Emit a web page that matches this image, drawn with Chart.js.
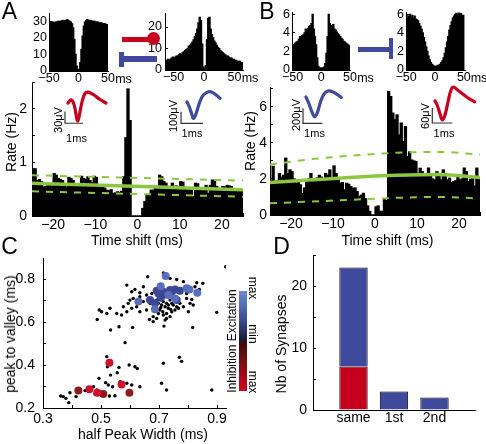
<!DOCTYPE html>
<html>
<head>
<meta charset="utf-8">
<script src="https://cdn.jsdelivr.net/npm/chart.js@4.4.1/dist/chart.umd.min.js"></script>
<style>
    html, body { margin: 0; padding: 0; background: #fff; }
    #fig { position: relative; width: 486px; height: 444px; overflow: hidden; font-family: "Liberation Sans", Arial, sans-serif; }
    #fig canvas { position: absolute; left: 0; top: 0; }
    .t { position: absolute; white-space: nowrap; line-height: 1; color: #000; }
    .s { position: absolute; }
</style>
</head>
<body>
<div id="fig"></div>
<script>
// ---- panels A / B : cross-correlograms, 0.5 ms bins from -25 to 25 ms
const ccgStart = -25;
const ccgBin = 0.5;
const rateA = [
    0.88, 0.88, 0.66, 0.68, 0.64, 0.54, 0.55, 0.57, 0.58, 0.56,
    0.79, 0.76, 0.70, 0.68, 0.66, 0.60, 0.54, 0.72, 0.70, 0.66,
    0.57, 0.55, 0.58, 0.74, 0.70, 0.68, 0.73, 0.66, 0.62, 0.74,
    0.72, 0.54, 0.53, 0.55, 0.52, 0.48, 0.47, 0.49, 0.42, 0.43,
    0.45, 0.44, 0.46, 0.73, 1.46, 2.37, 1.78, 0, 0, 0,
    0, 0, 0.14, 0.27, 0.39, 0.39, 0.48, 0.48, 0.55, 0.55,
    0.76, 0.73, 0.64, 0.61, 0.55, 0.55, 0.61, 0.55, 0.56, 0.54,
    0.64, 0.63, 0.51, 0.52, 0.50, 0.48, 0.36, 0.61, 0.60, 0.51,
    0.51, 0.52, 0.57, 0.42, 0.57, 0.67, 0.66, 0.55, 0.51, 0.50,
    0.55, 0.54, 0.57, 0.56, 0.55, 0.51, 0.50, 0.48, 0.48, 0.48
];
const rateB = [
    1.9, 2.7, 1.85, 1.9, 2.3, 2.1, 2.2, 3.15, 2.3, 2.5,
    2.4, 2.0, 1.76, 1.8, 1.67, 1.2, 1.5, 1.85, 2.0, 2.3,
    1.85, 1.9, 2.05, 2.2, 2.1, 1.9, 2.3, 2.2, 2.5, 2.05,
    2.72, 2.3, 1.95, 1.76, 1.8, 1.39, 1.76, 1.7, 1.57, 1.48,
    1.5, 1.3, 1.02, 1.1, 1.2, 0.9, 0.5, 0.2, 0, 0,
    0.45, 0.5, 0.2, 0.2, 0.85, 0.8, 6.85, 6.57, 5.65, 5.28,
    5.55, 4.44, 5.1, 4.07, 4.9, 3.24, 3.5, 3.05, 3.0, 2.96,
    2.31, 2.59, 2.4, 2.13, 2.2, 2.6, 2.13, 2.0, 1.94, 2.4,
    2.3, 1.94, 2.5, 2.3, 1.94, 2.04, 1.8, 1.85, 1.9, 2.2,
    1.94, 2.0, 2.6, 2.4, 1.85, 1.98, 2.1, 1.6, 2.6, 2.0
];
// green baseline and confidence band
const bandT = [-25, -15, -5, 5, 15, 25];
const meanA = [0.61, 0.59, 0.565, 0.54, 0.515, 0.49];
const upperA = [0.76, 0.74, 0.72, 0.70, 0.68, 0.66];
const lowerA = [0.46, 0.44, 0.42, 0.40, 0.38, 0.36];
const meanB = [1.8, 1.95, 2.1, 2.2, 2.25, 2.08];
const upperB = [2.8, 3.1, 3.3, 3.45, 3.5, 3.35];
const lowerB = [0.65, 0.75, 0.85, 0.95, 1.0, 0.92];

// ---- auto-correlograms, 2 ms bins
const acgBin = 2;
const acgA1 = [
    29, 29, 29.5, 29.5, 29, 29.5, 29.5, 30, 29.5, 30,
    30, 30.5, 30, 30.5, 30.5, 31, 30.5, 30, 29.5, 28.5,
    26, 19, 10, 3, 0.5, 1, 5, 13, 21, 27,
    29.5, 30.5, 31, 30.5, 30.5, 30.5, 30, 30, 30, 29.5,
    29.5, 29.5, 29, 29, 29, 28.5, 28.5, 28.5, 28, 28
];
const acgA2 = [
    4.5, 4, 5, 4.5, 5, 5.5, 6, 5.5, 6, 6.5,
    6.5, 7, 7.5, 7, 8, 8.5, 9, 9.5, 10, 11,
    11.5, 12, 13, 14, 15.5, 17, 19, 22, 24.5, 23,
    12, 1.5, 0.5, 2, 14, 24, 24.5, 19, 16.5, 15,
    13.5, 12.5, 11.5, 10.5, 10, 9, 8.5, 8, 7.5, 7,
    6.5, 6.5, 6, 5.5, 5.5, 5, 5, 4.5, 4.5, 4,
    4, 4, 3.5, 3.5
];
const acgB1 = [
    2.7, 2.7, 2.9, 3.0, 3.1, 3.3, 3.6, 3.5, 3.7, 3.8,
    4.0, 4.4, 4.3, 4.5, 4.7, 4.8, 5.0, 6.0, 4.4, 3.6,
    2.7, 1.3, 0.4, 0.2, 0.2, 0.2, 0.2, 0.3, 0.7, 1.8,
    3.6, 6.0, 5.0, 4.8, 4.7, 4.9, 4.4, 4.3, 4.1, 3.9,
    3.8, 3.6, 3.4, 3.3, 3.1, 3.0, 2.9, 2.8, 2.7, 2.6
];
const acgB2 = [
    5.9, 5.6, 5.8, 6.0, 5.7, 5.9, 5.6, 5.8, 5.5, 5.4,
    5.3, 5.0, 4.7, 4.4, 4.0, 3.5, 3.0, 2.5, 2.0, 1.5,
    1.1, 0.8, 0.6, 0.5, 0.4, 0.4, 0.4, 0.5, 0.5, 0.6,
    0.8, 1.0, 1.3, 1.8, 2.4, 3.0, 3.6, 4.3, 4.8, 5.2,
    5.6, 5.8, 6.0, 6.1, 5.9, 6.2, 6.0, 6.1, 5.8, 5.9
];

// ---- spike waveforms (ms, uV)
const redA_t = [0, 0.17, 0.33, 0.44, 0.53, 0.61, 0.78, 0.94, 1.11, 1.39, 1.78, 2.11];
const redA_v = [0, 8, -3, -28, -46, -36, 3, 24, 28, 22, 9, 0];
const blueA_t = [0, 0.09, 0.2, 0.29, 0.39, 0.52, 0.68, 0.86, 1.05, 1.27, 1.5];
const blueA_v = [0, -34, -94, -139, -111, -34, 43, 77, 88, 68, 32];
const blueB_t = [0, 0.16, 0.31, 0.45, 0.6, 0.75, 0.93, 1.14, 1.4, 1.66, 1.83];
const blueB_v = [13, -80, -187, -249, -187, -53, 53, 93, 80, 40, 7];
const redB_t = [0, 0.125, 0.25, 0.375, 0.5, 0.65, 0.8, 0.925, 1.1, 1.35, 1.65, 1.98];
const redB_v = [4, -16, -48, -72, -52, 0, 48, 60, 50, 34, 16, 1];

// ---- ticks (labelled values, and the step of the small unlabelled marks)
const ccgTicks = [-20, -10, 0, 10, 20];
const acgTicks = [-50, 0, 50];
const rateTicksA = [0, 1, 2];
const rateTicksB = [0, 2, 4, 6];
const acgYTicksA1 = [0, 10, 20, 30];
const acgYTicksA2 = [0, 10, 20];
const acgYTicksB = [0, 2, 4, 6];

// ---- panel C : half peak width vs peak to valley (ms)
const otherCells = [
    [0.930, 0.857], [0.715, 0.829], [0.661, 0.811], [0.589, 0.772], [0.738, 0.803],
    [0.761, 0.798], [0.784, 0.788], [0.830, 0.783], [0.851, 0.780], [0.824, 0.764],
    [0.606, 0.741], [0.634, 0.736], [0.657, 0.726], [0.675, 0.733], [0.686, 0.749],
    [0.600, 0.702], [0.611, 0.710], [0.646, 0.695], [0.669, 0.687], [0.703, 0.710],
    [0.715, 0.695], [0.726, 0.687], [0.738, 0.702], [0.749, 0.679], [0.772, 0.687],
    [0.795, 0.710], [0.807, 0.687], [0.818, 0.679], [0.709, 0.679], [0.721, 0.671],
    [0.732, 0.664], [0.703, 0.656], [0.692, 0.664], [0.744, 0.648], [0.726, 0.640],
    [0.755, 0.656], [0.767, 0.664], [0.784, 0.671], [0.801, 0.648], [0.715, 0.633],
    [0.738, 0.625], [0.698, 0.640], [0.680, 0.625], [0.657, 0.656], [0.634, 0.648],
    [0.623, 0.671], [0.606, 0.664], [0.589, 0.648], [0.571, 0.633], [0.554, 0.640],
    [0.531, 0.664], [0.520, 0.640], [0.502, 0.648], [0.494, 0.656], [0.487, 0.612],
    [0.533, 0.563], [0.562, 0.578], [0.609, 0.575], [0.667, 0.612], [0.680, 0.602],
    [0.721, 0.609], [0.726, 0.617], [0.717, 0.581], [0.816, 0.575], [0.899, 0.645],
    [0.583, 0.504], [0.692, 0.702], [0.634, 0.718], [0.698, 0.757], [0.709, 0.726],
    [0.721, 0.718], [0.744, 0.687], [0.761, 0.671], [0.698, 0.687], [0.686, 0.679],
    [0.706, 0.668], [0.713, 0.648], [0.732, 0.679], [0.740, 0.659], [0.692, 0.617],
    [0.594, 0.687], [0.577, 0.671], [0.795, 0.733], [0.813, 0.705], [0.839, 0.752],
    [0.617, 0.752], [0.646, 0.764],
    [0.520, 0.439], [0.522, 0.392], [0.562, 0.389], [0.597, 0.400], [0.617, 0.392],
    [0.625, 0.384], [0.715, 0.408], [0.770, 0.436], [0.778, 0.417], [0.533, 0.353],
    [0.556, 0.364], [0.493, 0.338], [0.516, 0.318], [0.525, 0.307], [0.540, 0.299],
    [0.566, 0.322], [0.589, 0.315], [0.606, 0.307], [0.634, 0.299], [0.709, 0.315],
    [0.726, 0.284], [0.882, 0.284], [0.474, 0.299], [0.485, 0.284], [0.497, 0.276],
    [0.462, 0.284], [0.445, 0.281], [0.414, 0.253], [0.393, 0.271], [0.361, 0.256],
    [0.370, 0.253], [0.379, 0.245], [0.389, 0.225], [0.529, 0.256], [0.548, 0.257],
    [0.479, 0.265]
];
const excitLight = [
    [0.723, 0.814], [0.706, 0.767], [0.795, 0.757], [0.805, 0.752], [0.832, 0.736],
    [0.629, 0.695], [0.686, 0.659], [0.755, 0.710], [0.732, 0.726]
];
const excitDark = [
    [0.692, 0.746], [0.715, 0.741], [0.738, 0.749], [0.755, 0.752], [0.772, 0.746],
    [0.669, 0.702], [0.706, 0.713], [0.686, 0.687], [0.761, 0.702], [0.698, 0.733],
    [0.744, 0.741]
];
const inhibBright = [[0.529, 0.411], [0.571, 0.309], [0.460, 0.287], [0.487, 0.271]];
const inhibDark = [[0.422, 0.281], [0.508, 0.265], [0.598, 0.271]];
const widthTicks = [0.3, 0.5, 0.7, 0.9];
const valleyTicks = [0.2, 0.4, 0.6, 0.8];

// ---- panel D : number of synapses
const synCats = ['same', '1st', '2nd'];
const synInhib = [7, 0, 0];
const synExcit = [16, 3, 2];
const synTicks = [0, 10, 20];

// ------------------------------------------------------------------
const W = 486, H = 444;
const fig = document.getElementById('fig');
const RED = '#c8001e', BLUE = '#3f4a9c', GREEN = '#8cc63f';

Chart.defaults.font.family = '"Liberation Sans", Arial, sans-serif';
Chart.defaults.color = '#000';

function makeCanvas() {
    const c = document.createElement('canvas');
    c.width = W;
    c.height = H;
    fig.appendChild(c);
    return c.getContext('2d');
}

function tickLabel(v) {
    return v < 0 ? '\u2212' + Math.abs(v) : String(v);
}

// plot area [left, top, right, bottom] in page pixels, plus the room kept for each axis
function boxPadding(a, yw, xh) {
    return { left: a[0] - yw, top: a[1], right: W - a[2], bottom: H - a[3] - xh };
}

// labelled ticks plus small inward marks every `minor` units (matlab style)
function axis(horizontal, min, max, ticks, size, pad, room, fmt, minor) {
    const marks = ticks.slice();
    if (minor) {
        for (let v = min; v <= max + 1e-9; v += minor) {
            if (!ticks.some(t => Math.abs(t - v) < 1e-6)) marks.push(+v.toFixed(6));
        }
    }
    const show = fmt || tickLabel;
    return {
        type: 'linear', min: min, max: max, offset: false,
        grid: { display: true, drawOnChartArea: false, drawTicks: true, tickLength: -3, color: '#000', lineWidth: 1 },
        border: { display: true, color: '#000', width: 1 },
        ticks: {
            font: { size: size }, padding: pad + 3, maxRotation: 0, autoSkip: false,
            callback: v => ticks.some(t => Math.abs(t - v) < 1e-6) ? show(v) : ''
        },
        afterBuildTicks: s => { s.ticks = marks.sort((a, b) => a - b).map(v => ({ value: v })); },
        afterFit: s => { if (horizontal) s.height = room; else s.width = room; }
    };
}

function baseOptions(area, yw, xh, scales) {
    return {
        responsive: false, animation: false, devicePixelRatio: 1, events: [],
        layout: { padding: boxPadding(area, yw, xh) },
        plugins: { legend: { display: false }, tooltip: { enabled: false } },
        scales: scales
    };
}

function bandLine(ys, width, dash) {
    return {
        type: 'line', order: 0,
        data: bandT.map((t, i) => ({ x: t, y: ys[i] })),
        borderColor: GREEN, borderWidth: width, borderDash: dash,
        pointRadius: 0, tension: 0.4, cubicInterpolationMode: 'monotone'
    };
}

function histogram(o) {
    const datasets = [{
        type: 'bar', order: 1,
        data: o.values.map((v, i) => ({ x: o.start + o.bin * (i + 0.5), y: v })),
        backgroundColor: '#000', borderWidth: 0, inflateAmount: 0.6,
        barPercentage: 1, categoryPercentage: 1
    }].concat(o.lines || []);
    new Chart(makeCanvas(), {
        type: 'bar',
        data: { datasets: datasets },
        options: baseOptions(o.area, o.yw, o.xh, {
            x: axis(true, o.xmin, o.xmax, o.xTicks, o.font, o.xPad, o.xh),
            y: axis(false, 0, o.ymax, o.yTicks, o.font, o.yPad, o.yw, null, o.yMinor)
        })
    });
}

// main cross-correlograms
histogram({
    area: [32, 82, 243, 216], yw: 32, xh: 20, values: rateA, start: ccgStart, bin: ccgBin,
    xmin: -25, xmax: 25, xTicks: ccgTicks, ymax: 2.5, yTicks: rateTicksA, yMinor: 0.5,
    font: 14, xPad: 1, yPad: 5,
    lines: [bandLine(meanA, 3.5, []), bandLine(upperA, 2, [7, 7]), bandLine(lowerA, 2, [7, 7])]
});
histogram({
    area: [270, 87, 480, 215], yw: 18, xh: 20, values: rateB, start: ccgStart, bin: ccgBin,
    xmin: -25, xmax: 25, xTicks: ccgTicks, ymax: 7.1, yTicks: rateTicksB, yMinor: 1,
    font: 14, xPad: 1, yPad: 3,
    lines: [bandLine(meanB, 3.5, []), bandLine(upperB, 2, [7, 7]), bandLine(lowerB, 2, [7, 7])]
});

// auto-correlograms
histogram({
    area: [49, 13, 108, 71], yw: 24, xh: 16, values: acgA1, start: -50, bin: acgBin,
    xmin: -50, xmax: 50, xTicks: acgTicks, ymax: 35, yTicks: acgYTicksA1,
    font: 12.5, xPad: 0, yPad: 2
});
histogram({
    area: [165, 10, 243, 70], yw: 24, xh: 16, values: acgA2, start: -64, bin: acgBin,
    xmin: -64, xmax: 64, xTicks: acgTicks, ymax: 26.3, yTicks: acgYTicksA2,
    font: 12.5, xPad: 0, yPad: 3
});
histogram({
    area: [292, 12, 350, 70], yw: 16, xh: 16, values: acgB1, start: -50, bin: acgBin,
    xmin: -51, xmax: 50, xTicks: acgTicks, ymax: 6.2, yTicks: acgYTicksB,
    font: 12.5, xPad: 0, yPad: 2
});
histogram({
    area: [406, 12, 465, 70], yw: 16, xh: 16, values: acgB2, start: -50, bin: acgBin,
    xmin: -50, xmax: 52, xTicks: acgTicks, ymax: 6.2, yTicks: acgYTicksB,
    font: 12.5, xPad: 0, yPad: 2
});

// waveform insets with scale bars
function waveform(o) {
    const bar = [
        { x: o.barX, y: o.barY + o.uv },
        { x: o.barX, y: o.barY },
        { x: o.barX + 1, y: o.barY }
    ];
    new Chart(makeCanvas(), {
        type: 'scatter',
        data: {
            datasets: [{
                data: o.t.map((t, i) => ({ x: t, y: o.v[i] })),
                showLine: true, borderColor: o.color, borderWidth: 3.2,
                pointRadius: 0, tension: 0.4, borderCapStyle: 'round', clip: false
            }, {
                data: bar, showLine: true, borderColor: '#333', borderWidth: 1.2,
                pointRadius: 0, tension: 0, clip: false
            }]
        },
        options: {
            responsive: false, animation: false, devicePixelRatio: 1, events: [],
            layout: { padding: { left: o.area[0], top: o.area[1], right: W - o.area[2], bottom: H - o.area[3] } },
            plugins: { legend: { display: false }, tooltip: { enabled: false } },
            scales: {
                x: { type: 'linear', display: false, min: o.xr[0], max: o.xr[1] },
                y: { type: 'linear', display: false, min: o.yr[0], max: o.yr[1] }
            }
        }
    });
}

waveform({ t: redA_t, v: redA_v, color: RED, area: [60, 86, 110, 126], xr: [-0.444, 2.333], yr: [-59, 43.6], uv: 30, barX: -0.167, barY: -52 });
waveform({ t: blueA_t, v: blueA_v, color: BLUE, area: [170, 86, 225, 126], xr: [-0.773, 1.727], yr: [-205, 136.8], uv: 100, barX: -0.27, barY: -183 });
waveform({ t: blueB_t, v: blueB_v, color: BLUE, area: [290, 84, 345, 126], xr: [-0.829, 2.021], yr: [-373, 186.7], uv: 200, barX: -0.155, barY: -337 });
waveform({ t: redB_t, v: redB_v, color: RED, area: [420, 82, 480, 126], xr: [-0.75, 2.25], yr: [-96, 80], uv: 60, barX: -0.135, barY: -84 });

// panel C scatter
function pts(list) { return list.map(p => ({ x: p[0], y: p[1] })); }
new Chart(makeCanvas(), {
    type: 'scatter',
    data: {
        datasets: [
            { data: pts(inhibBright), backgroundColor: '#d0102a', pointRadius: 4, borderWidth: 0, order: 0 },
            { data: pts(inhibDark), backgroundColor: '#8a1c1c', pointRadius: 4, borderWidth: 0, order: 0 },
            { data: pts(excitLight), backgroundColor: '#5a6cbc', pointRadius: 4, borderWidth: 0, order: 0 },
            { data: pts(excitDark), backgroundColor: '#3b4896', pointRadius: 4, borderWidth: 0, order: 0 },
            { data: pts(otherCells), backgroundColor: '#000', pointRadius: 1.7, borderWidth: 0, order: 1 }
        ]
    },
    options: baseOptions([43, 258, 226, 408], 43, 22, {
        x: axis(true, 0.3, 0.931, widthTicks, 14, 3, 22, v => v.toFixed(1), 0.1),
        y: axis(false, 0.2, 0.898, valleyTicks, 14, 8, 43, v => v.toFixed(1), 0.1)
    })
});

// panel D stacked bars
const dOpts = baseOptions([313, 255, 475, 410], 26, 22, {
    x: axis(true, 0, 4, [1, 2, 3], 14, 3, 22, v => synCats[v - 1]),
    y: axis(false, 0, 25, synTicks, 14, 6, 26, null, 5)
});
dOpts.scales.x.grid.display = false;
dOpts.scales.x.ticks.padding = 3;
dOpts.scales.x.stacked = true;
dOpts.scales.y.stacked = true;
new Chart(makeCanvas(), {
    type: 'bar',
    data: {
        datasets: [
            { data: synInhib.map((v, i) => ({ x: i + 1, y: v })), backgroundColor: '#c4001c', borderColor: '#000', borderWidth: 1, barPercentage: 0.7, categoryPercentage: 1 },
            { data: synExcit.map((v, i) => ({ x: i + 1, y: v })), backgroundColor: BLUE, borderColor: '#000', borderWidth: 1, barPercentage: 0.7, categoryPercentage: 1 }
        ]
    },
    options: dOpts
});

// ---- text and small graphics
function addText(str, cx, cy, size, rot) {
    const d = document.createElement('div');
    d.className = 't';
    d.textContent = str;
    d.style.left = cx + 'px';
    d.style.top = cy + 'px';
    d.style.fontSize = size + 'px';
    d.style.transform = 'translate(-50%,-50%)' + (rot ? ' rotate(' + rot + 'deg)' : '');
    fig.appendChild(d);
}
function addShape(x, y, w, h, bg, radius) {
    const d = document.createElement('div');
    d.className = 's';
    d.style.left = x + 'px';
    d.style.top = y + 'px';
    d.style.width = w + 'px';
    d.style.height = h + 'px';
    d.style.background = bg;
    if (radius) d.style.borderRadius = radius;
    fig.appendChild(d);
}

addText('A', 9.5, 10.5, 23);
addText('B', 267, 11, 23);
addText('C', 9.5, 246, 23);
addText('D', 281.5, 246, 23);

addText('ms', 123.5, 79, 12.5);
addText('ms', 250, 78, 12.5);
addText('ms', 365.5, 78, 12.5);
addText('ms', 479, 78, 12.5);

addText('Rate (Hz)', 11, 142, 14, -90);
addText('Time shift (ms)', 137, 240, 14);
addText('Rate (Hz)', 250, 141, 14, -90);
addText('Time shift (ms)', 387.5, 240, 14);

addText('30\u03bcV', 57.5, 120, 11, -90);
addText('1ms', 76.5, 137.5, 11);
addText('100\u03bcV', 172.5, 116, 11, -90);
addText('1ms', 192, 133, 11);
addText('200\u03bcV', 295.5, 115, 11, -90);
addText('1ms', 314.5, 132.5, 11);
addText('60\u03bcV', 425, 116, 11, -90);
addText('1ms', 444, 132.5, 11);

addText('peak to valley (ms)', 10, 334, 14, -90);
addText('half Peak Width (ms)', 143, 434, 14);
addText('Inhibition Excitation', 232, 341, 12, -90);
addText('max', 253, 288, 12, 90);
addText('min', 253, 334, 12, 90);
addText('max', 253, 382, 12, 90);
addText('Nb of Synapses', 280.5, 344, 14, -90);

// connection symbols
addShape(122, 36.5, 28, 5.5, RED);
addShape(146.5, 31.5, 13, 13, RED, '50%');
addShape(121, 56, 36, 5.5, BLUE);
addShape(119, 51.5, 4.5, 15, BLUE);
addShape(358, 46.5, 31, 5.5, BLUE);
addShape(388.5, 38, 4.5, 20.5, BLUE);

// colour scale
addShape(239, 291, 8, 100, 'linear-gradient(to bottom, #6a8ccc 0%, #3a4a8a 30%, #141a34 50%, #3a0c0c 50%, #7a1010 72%, #d4001e 100%)');
</script>
</body>
</html>
